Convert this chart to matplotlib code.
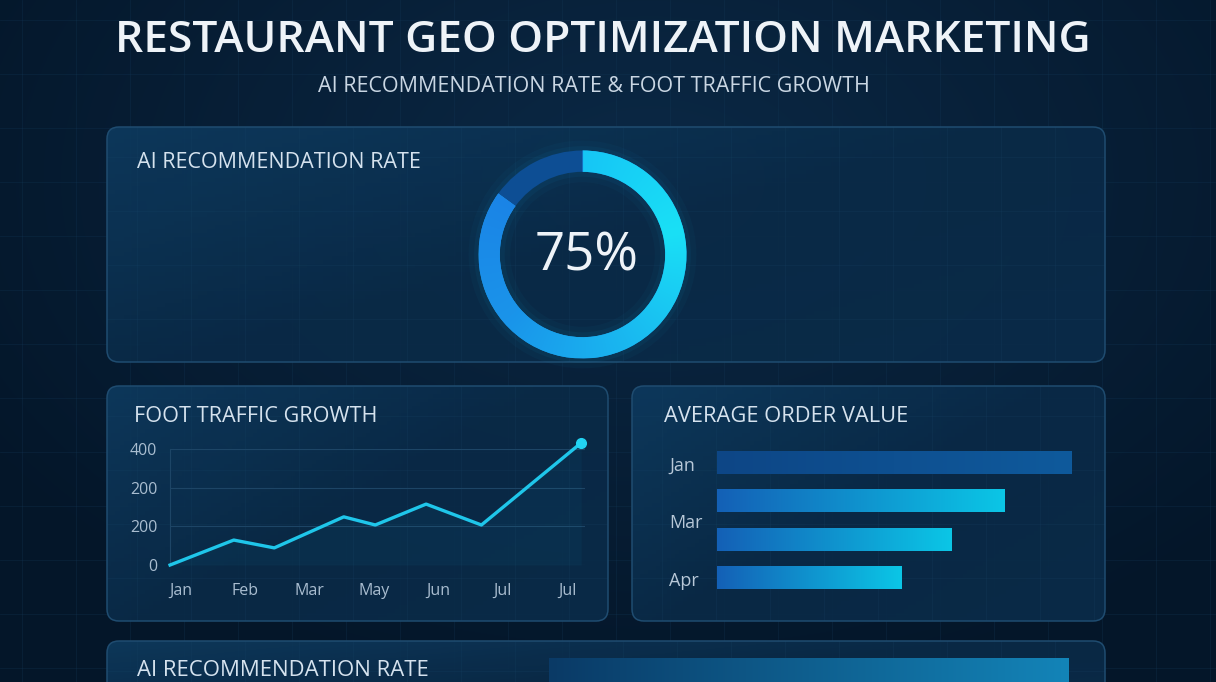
import numpy as np
import matplotlib
matplotlib.use("Agg")
import matplotlib.pyplot as plt
from matplotlib.patches import FancyBboxPatch, Circle
from matplotlib.colors import LinearSegmentedColormap, to_rgb
from matplotlib.transforms import blended_transform_factory

W, H = 1216, 682

TITLE = "RESTAURANT GEO OPTIMIZATION MARKETING"
SUBTITLE = "AI RECOMMENDATION RATE & FOOT TRAFFIC GROWTH"

# donut
rate_label = "75%"
ring_share = [85, 15]  # filled arc vs remainder, as drawn

# foot traffic line (x in month slots)
traffic_x = [-0.17, 0.82, 1.45, 2.53, 3.02, 3.81, 4.67, 6.22]
traffic_y = [0, 86, 59, 166, 138, 210, 138, 421]
month_pos = [0, 1, 2, 3, 4, 5, 6]
month_labels = ["Jan", "Feb", "Mar", "May", "Jun", "Jul", "Jul"]
ytick_pos = [0, 133, 267, 400]
ytick_labels = ["0", "200", "200", "400"]

# average order value bars
order_values = [100, 81, 66, 52]
order_label_pos = [0, 1.5, 3]
order_labels = ["Jan", "Mar", "Apr"]

# bottom panel bar (cut off by figure edge)
bottom_values = [100]

FONT = "Open Sans"

fig = plt.figure(figsize=(W / 100, H / 100), dpi=100)


def px_axes(x0, y0, x1, y1, z=2):
    return fig.add_axes([x0 / W, 1 - y1 / H, (x1 - x0) / W, (y1 - y0) / H], zorder=z)


def fit(t, width):
    r = fig.canvas.get_renderer()
    bb = t.get_window_extent(r)
    t.set_fontsize(t.get_fontsize() * width / bb.width)


def grad_img(c0, c1, n=256):
    cm = LinearSegmentedColormap.from_list("g", [c0, c1])
    return cm, np.linspace(0, 1, n).reshape(1, -1)


# ---- background ----
bg = fig.add_axes([0, 0, 1, 1], zorder=0)
bg.set_xlim(0, W)
bg.set_ylim(H, 0)
bg.axis("off")
yy, xx = np.mgrid[0:H, 0:W]
d = np.sqrt(((xx - 650) / 800.0) ** 2 + ((yy - 180) / 520.0) ** 2).clip(0, 1)
c_in = np.array(to_rgb("#0b2946"))
c_out = np.array(to_rgb("#041629"))
img = c_in[None, None, :] * (1 - d[..., None]) + c_out[None, None, :] * d[..., None]
bg.imshow(img, extent=(0, W, H, 0), origin="upper", aspect="auto", zorder=0)

for gx in range(22, W, 54):
    bg.axvline(gx, color="#143a5a", lw=0.6, alpha=0.3, zorder=1)
for gy in range(20, H, 54):
    bg.axhline(gy, color="#143a5a", lw=0.6, alpha=0.3, zorder=1)

# ---- panels ----
panels = [(107, 127, 1105, 362), (107, 386, 608, 621), (632, 386, 1105, 621), (107, 641, 1105, 720)]
pcm = LinearSegmentedColormap.from_list("p", ["#0e3a5e", "#0a2a47", "#0b2c4a"])
for x0, y0, x1, y1 in panels:
    box = FancyBboxPatch((x0, y0), x1 - x0, y1 - y0,
                         boxstyle="round,pad=0,rounding_size=12",
                         facecolor="none", edgecolor="#1f4c70", lw=1.1, zorder=3)
    bg.add_patch(box)
    v, u = np.mgrid[0:1:60j, 0:1:120j]
    t = (0.55 * u + 0.45 * v)
    im = bg.imshow(t, extent=(x0, x1, y1, y0), origin="upper", cmap=pcm,
                   aspect="auto", zorder=2, alpha=0.92)
    im.set_clip_path(box)
    for gx in range(x0 + 30, x1, 54):
        ln = bg.plot([gx, gx], [y0, y1], color="#184466", lw=0.5, alpha=0.3, zorder=2.5)[0]
        ln.set_clip_path(box)
    for gy in range(y0 + 30, y1, 54):
        ln = bg.plot([x0, x1], [gy, gy], color="#184466", lw=0.5, alpha=0.3, zorder=2.5)[0]
        ln.set_clip_path(box)

# ---- titles ----
t = bg.text(603, 40, TITLE, ha="center", va="center", color="#eef3f8",
            fontsize=28, family=FONT, weight="semibold", zorder=5)
fit(t, 975)
t = bg.text(594, 86, SUBTITLE, ha="center", va="center", color="#c9d6e3",
            fontsize=14, family=FONT, zorder=5)
fit(t, 555)

panel_titles = [("AI RECOMMENDATION RATE", 137, 162, 283),
                ("FOOT TRAFFIC GROWTH", 134, 417, 242),
                ("AVERAGE ORDER VALUE", 664, 417, 243),
                ("AI RECOMMENDATION RATE", 137, 670, 290)]
for txt, x, y, w in panel_titles:
    t = bg.text(x, y, txt, ha="left", va="center", color="#d5e2ee",
                fontsize=13, family=FONT, zorder=5)
    fit(t, w)

# ---- donut ----
ax = px_axes(452.5, 124.5, 712.5, 384.5, z=4)
ax.set_facecolor("none")
for lw, a in [(30, 0.035), (22, 0.05)]:
    ax.add_patch(Circle((0, 0), 0.895, fill=False, edgecolor="#1ab8f0", lw=lw, alpha=a))
wedges, _ = ax.pie(ring_share, startangle=90, counterclock=False, radius=1,
                   colors=["#1a9ae8", "#0d4e94"],
                   wedgeprops=dict(width=0.205, linewidth=0))
gy_, gx_ = np.mgrid[-1:1:400j, -1:1:400j]
theta = np.degrees(np.arctan2(gy_, gx_))
tt = ((90 - theta) % 360) / (360 * ring_share[0] / sum(ring_share))
ring_cm = LinearSegmentedColormap.from_list(
    "ring", ["#16c6f5", "#1ae0f6", "#19b8f0", "#1a94ea", "#1b84e6"])
im = ax.imshow(tt.clip(0, 1), extent=(-1, 1, -1, 1), origin="lower", cmap=ring_cm,
               vmin=0, vmax=1, zorder=3)
im.set_clip_path(wedges[0])
ax.text(0.04, -0.025, rate_label, ha="center", va="center", fontsize=38,
        color="#eef3f8", family=FONT, weight="medium", zorder=5)
ax.set_xlim(-1.25, 1.25)
ax.set_ylim(-1.25, 1.25)
ax.set_aspect("equal")
ax.axis("off")

# ---- foot traffic line ----
ax = px_axes(170, 449, 585, 565, z=4)
ax.set_facecolor("none")
ax.set_xlim(-0.171, 6.28)
ax.set_ylim(0, 400)
ax.fill_between(traffic_x, traffic_y, 0, color="#1fc6ea", alpha=0.045, lw=0, clip_on=False)
ax.plot(traffic_x, traffic_y, color="#1fc6ea", lw=2.4, clip_on=False, zorder=4)
ax.plot(traffic_x[-1:], traffic_y[-1:], "o", ms=7, color="#22d3f2", clip_on=False, zorder=5)
ax.set_yticks(ytick_pos, ytick_labels)
ax.set_xticks(month_pos, month_labels)
ax.tick_params(length=0, colors="#a9bdd0", labelsize=11.5)
ax.tick_params(axis="y", pad=9)
ax.tick_params(axis="x", pad=13)
for lab in ax.get_xticklabels() + ax.get_yticklabels():
    lab.set_family(FONT)
ax.grid(axis="y", color="#1d4566", lw=0.8)
ax.set_axisbelow(True)
for s in ["top", "right", "bottom"]:
    ax.spines[s].set_visible(False)
ax.spines["left"].set_color("#1d4566")

# ---- average order value ----
ax = px_axes(717, 440, 1072, 600, z=4)
ax.set_facecolor("none")
ypos = np.arange(len(order_values))
bars = ax.barh(ypos, order_values, height=0.6, color="#1563ba", lw=0)
for i, (b, v) in enumerate(zip(bars, order_values)):
    if i == 0:
        cm, g = grad_img("#0d4686", "#0f5a9c")
    else:
        cm, g = grad_img("#1460b6", "#0bc6e6")
    im = ax.imshow(g, extent=(0, v, i + 0.3, i - 0.3), cmap=cm, aspect="auto", zorder=3)
    im.set_clip_path(b)
ax.set_xlim(0, 100)
ax.set_ylim(3.587, -0.587)
tr = blended_transform_factory(ax.transAxes, ax.transData)
for p, lab in zip(order_label_pos, order_labels):
    ax.text(-0.135, p + 0.08, lab, transform=tr, ha="left", va="center",
            fontsize=13, color="#b8c8d8", family=FONT)
ax.axis("off")

# ---- bottom panel bar ----
ax = px_axes(549, 658, 1069, 682, z=4)
ax.set_facecolor("none")
b = ax.barh([0], bottom_values, height=1, color="#0d4a7c", lw=0)[0]
cm, g = grad_img("#0a3a66", "#1384b8")
im = ax.imshow(g, extent=(0, bottom_values[0], -0.5, 0.5), cmap=cm, aspect="auto", zorder=3)
im.set_clip_path(b)
ax.set_xlim(0, 100)
ax.set_ylim(0, 0.5)
ax.axis("off")

fig.savefig("out.png", dpi=100)
